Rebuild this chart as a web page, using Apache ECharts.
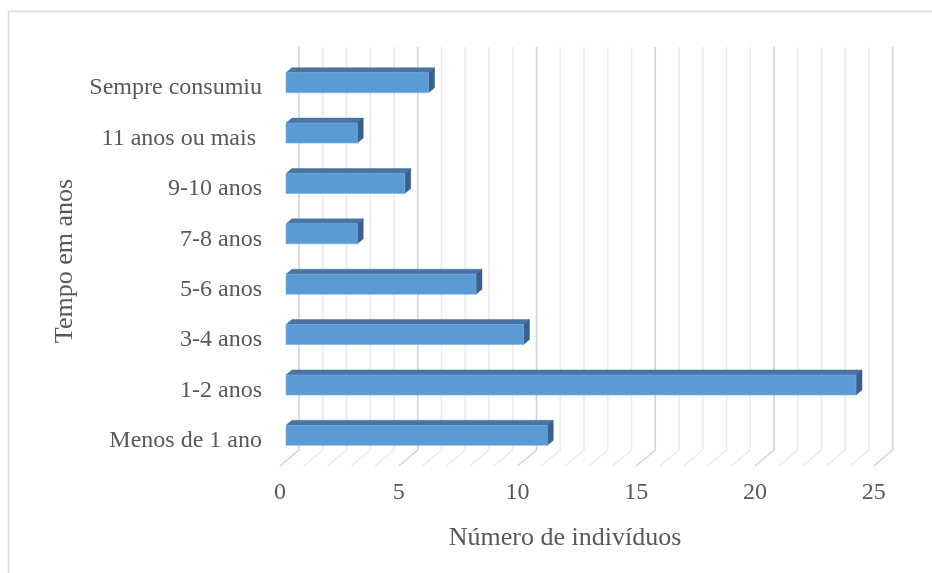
<!DOCTYPE html>
<html>
<head>
<meta charset="utf-8">
<script src="https://cdn.jsdelivr.net/npm/echarts@6/dist/echarts.min.js"></script>
<style>
  html, body { margin: 0; padding: 0; background: #ffffff; }
  #chart { width: 932px; height: 573px; }
</style>
</head>
<body>
<div id="chart"></div>
<script>
// Categories listed bottom to top (category axis starts at the bottom)
const categories = [
  'Menos de 1 ano',
  '1-2 anos',
  '3-4 anos',
  '5-6 anos',
  '7-8 anos',
  '9-10 anos',
  '11 anos ou mais ',
  'Sempre consumiu'
];
const counts = [11, 24, 10, 8, 3, 5, 3, 6];

// Value axis range and the back-wall gridline positions
const axisMin = 0;
const axisMax = 25;
const axisStep = 5;
const gridValues = [0, 1, 2, 3, 4, 5, 6, 7, 8, 9, 10, 11, 12, 13, 14, 15, 16, 17, 18, 19, 20, 21, 22, 23, 24, 25];

const xTitle = 'Número de indivíduos';
const yTitle = 'Tempo em anos';

// Oblique 3D look: offsets from the back wall to the bar front and to the floor edge
const FRONT_DX = -13, FRONT_DY = 10.5;
const FLOOR_DX = -19, FLOOR_DY = 16;
const DEPTH_DX = 6, DEPTH_DY = -5;
const BAR_H = 20;

const FONT = '"Liberation Serif", "Times New Roman", serif';
const TEXT = '#595959';

const chart = echarts.init(document.getElementById('chart'), null, { renderer: 'canvas' });

function renderGridline(params, api) {
  const v = api.value(0);
  const cs = params.coordSys;
  const x = api.coord([v, 0])[0];
  const bottom = cs.y + cs.height;
  const major = v % axisStep === 0;
  return {
    type: 'polyline',
    shape: { points: [[x, cs.y], [x, bottom], [x + FLOOR_DX, bottom + FLOOR_DY]] },
    style: { stroke: major ? '#d4d4d4' : '#ececec', lineWidth: 1.6, fill: null }
  };
}

function renderBar(params, api) {
  const v = api.value(0);
  const cat = api.value(1);
  const p0 = api.coord([0, cat]);
  const p1 = api.coord([v, cat]);
  const x0 = p0[0] + FRONT_DX;
  const x1 = p1[0] + FRONT_DX;
  const yc = p0[1] + FRONT_DY;
  const yt = yc - BAR_H / 2;
  const yb = yc + BAR_H / 2;
  return {
    type: 'group',
    children: [
      {
        type: 'polygon',
        shape: { points: [[x0, yt], [x0 + DEPTH_DX, yt + DEPTH_DY], [x1 + DEPTH_DX, yt + DEPTH_DY], [x1, yt]] },
        style: { fill: '#4775a3', stroke: '#4775a3', lineWidth: 0.5 }
      },
      {
        type: 'polygon',
        shape: { points: [[x1, yt], [x1 + DEPTH_DX, yt + DEPTH_DY], [x1 + DEPTH_DX, yb + DEPTH_DY], [x1, yb]] },
        style: { fill: '#3b6189', stroke: '#3b6189', lineWidth: 0.5 }
      },
      {
        type: 'rect',
        shape: { x: x0, y: yt, width: x1 - x0, height: BAR_H },
        style: { fill: '#5b9bd5', stroke: '#7aaee0', lineWidth: 0.6 }
      }
    ]
  };
}

const option = {
  backgroundColor: '#ffffff',
  animation: false,
  grid: [
    // back wall of the plot
    { left: 299, top: 47, width: 593.75, height: 403 },
    // floor front edge, carries the axis labels
    { left: 280, top: 63, width: 593.75, height: 403 }
  ],
  xAxis: [
    { gridIndex: 0, type: 'value', min: axisMin, max: axisMax, show: false },
    {
      gridIndex: 1, type: 'value', min: axisMin, max: axisMax, interval: axisStep,
      axisLine: { show: false }, axisTick: { show: false }, splitLine: { show: false },
      axisLabel: { margin: 15, color: TEXT, fontFamily: FONT, fontSize: 24 }
    }
  ],
  yAxis: [
    { gridIndex: 0, type: 'category', data: categories, show: false },
    {
      gridIndex: 1, type: 'category', data: categories,
      axisLine: { show: false }, axisTick: { show: false }, splitLine: { show: false },
      axisLabel: { margin: 18, color: TEXT, fontFamily: FONT, fontSize: 24 }
    }
  ],
  series: [
    {
      type: 'custom',
      name: 'gridlines',
      xAxisIndex: 0, yAxisIndex: 0,
      data: gridValues.map(v => [v, 0]),
      encode: { x: 0, y: 1 },
      renderItem: renderGridline,
      silent: true,
      z: 1
    },
    {
      type: 'custom',
      name: 'Número de indivíduos',
      xAxisIndex: 0, yAxisIndex: 0,
      data: counts.map((v, i) => [v, i]),
      encode: { x: 0, y: 1 },
      renderItem: renderBar,
      z: 2
    }
  ],
  graphic: [
    {
      type: 'rect', silent: true, z: -1,
      shape: { x: 8.5, y: 11.5, width: 1000, height: 1000 },
      style: { fill: null, stroke: '#d9d9d9', lineWidth: 1.5 }
    },
    {
      type: 'text', silent: true,
      x: 565, y: 538,
      style: { text: xTitle, fill: TEXT, font: '26px ' + FONT, align: 'center', verticalAlign: 'middle' }
    },
    {
      type: 'text', silent: true,
      x: 65, y: 261, rotation: Math.PI / 2,
      style: { text: yTitle, fill: TEXT, font: '26px ' + FONT, align: 'center', verticalAlign: 'middle' }
    }
  ]
};

chart.setOption(option);
</script>
</body>
</html>
